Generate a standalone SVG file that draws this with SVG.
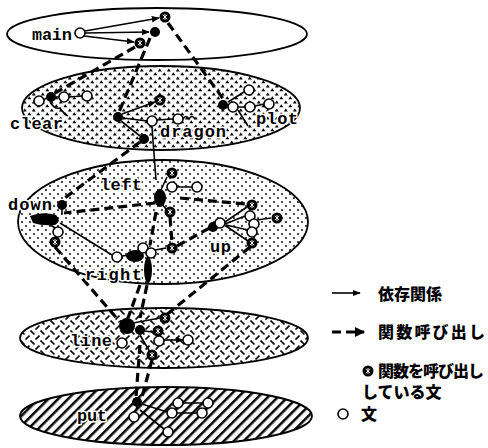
<svg xmlns="http://www.w3.org/2000/svg" width="488" height="448" viewBox="0 0 488 448">
<style>
.ell{stroke:#000;stroke-width:1.8}
.sl{fill:none;stroke:#000;stroke-width:1.6}
.dl{fill:none;stroke:#000;stroke-width:3.2;stroke-dasharray:9 5}
.lbl{font-family:"Liberation Mono","DejaVu Sans Mono",monospace;font-size:17px;font-weight:bold;fill:#000;stroke:#fff;stroke-width:3;paint-order:stroke;stroke-linejoin:round}
.jp{font-family:"Noto Sans CJK JP","Noto Sans CJK SC",sans-serif;font-size:16px;font-weight:900;fill:#000}
.blob{fill:#000}
</style>
<defs>
<pattern id="pTri" width="9" height="8" patternUnits="userSpaceOnUse"><path d="M0.3,3.2 L2.3,0.3 L4.3,3.2Z M4.8,7.4 L6.8,4.5 L8.8,7.4Z" fill="#000"/></pattern>
<pattern id="pDot" width="8" height="8" patternUnits="userSpaceOnUse"><circle cx="2" cy="2" r="0.95" fill="#000"/><circle cx="6" cy="6" r="0.95" fill="#000"/></pattern>
<pattern id="pDash" width="10" height="10" patternUnits="userSpaceOnUse"><path d="M0.5,0.5 L4.5,4.5 M5.5,9.5 L9.5,5.5" stroke="#000" stroke-width="1.6"/></pattern>
<pattern id="pHatch" width="7" height="7" patternUnits="userSpaceOnUse" patternTransform="rotate(45)"><rect x="0" y="0" width="2.5" height="7" fill="#000"/></pattern>
<marker id="ah" viewBox="0 0 10 10" refX="9" refY="5" markerWidth="5" markerHeight="5" orient="auto"><path d="M0,1 L10,5 L0,9Z" fill="#000"/></marker>
<marker id="ahd" viewBox="0 0 10 10" refX="9" refY="5" markerWidth="3.2" markerHeight="3.2" orient="auto"><path d="M0,0 L10,5 L0,10Z" fill="#000"/></marker>
<g id="on"><circle r="5" fill="#fff" stroke="#000" stroke-width="1.6"/></g>
<g id="cn"><circle r="5.5" fill="#000"/><path d="M-2.2,-2.2L2.2,2.2M2.2,-2.2L-2.2,2.2M0,-3V3" stroke="#fff" stroke-width="0.9"/></g>
<g id="bn"><circle r="5" fill="#000"/></g>
</defs>

<g id="layers">
<ellipse class="ell" cx="157" cy="34" rx="150" ry="26" fill="#fff"/>
<ellipse class="ell" cx="161" cy="108" rx="139" ry="42" fill="#fff"/>
<ellipse cx="161" cy="108" rx="139" ry="42" fill="url(#pTri)"/>
<ellipse class="ell" cx="163" cy="222" rx="145" ry="62" fill="#fff"/>
<ellipse cx="163" cy="222" rx="145" ry="62" fill="url(#pDot)"/>
<ellipse class="ell" cx="164" cy="338" rx="144" ry="30" fill="#fff"/>
<ellipse cx="164" cy="338" rx="144" ry="30" fill="url(#pDash)"/>
<ellipse class="ell" cx="166" cy="416" rx="146" ry="29" fill="#fff"/>
<ellipse cx="166" cy="416" rx="146" ry="29" fill="url(#pHatch)"/>
</g>

<g id="connectors">
<path class="sl" d="M85,31 L159,18" marker-end="url(#ah)"/>
<path class="sl" d="M85,33 L149,32" marker-end="url(#ah)"/>
<path class="sl" d="M84,36 L134,42" marker-end="url(#ah)"/>
<path class="dl" d="M135,47 L50,96"/>
<path class="dl" d="M150,38 L119,112"/>
<path class="dl" d="M168,23 L224,100"/>
<path class="sl" d="M44,100 L46,98 M56,97 L59,97 M69,97 L82,96"/>
<path class="sl" d="M50,102 q5,8 10,6 q4,6 8,8"/>
<path class="sl" d="M122,114 L155,102" marker-end="url(#ah)"/>
<path class="sl" d="M123,118 L147,121"/>
<path class="sl" d="M157,120 L173,119"/>
<path class="sl" d="M121,121 L140,136"/>
<path class="sl" d="M183,119 q3,-5 6,0 q3,-5 6,0"/>
<path class="sl" d="M228,102 L244,92 M229,106 L228,107 M238,107 L245,107 M255,106 L264,104 M238,110 L248,126"/>
<path class="dl" d="M140,142 L62,200"/>
<path class="sl" d="M152,127 L156,180" stroke-width="2"/>
<path class="sl" d="M177,187 L192,187 M160,192 L167,177 M160,202 L166,209"/>
<path class="sl" d="M62,206 L62,214 M45,221 L55,228 M57,236 L55,237"/>
<path class="sl" d="M60,223 L112,255" stroke-width="3"/>
<path class="sl" d="M122,256 L130,255 M155,250 L166,248"/>
<path class="sl" d="M225,222 L247,207 M225,224 L245,216 M226,225 L248,230 M226,226 L248,241 M257,220 L271,218"/>
<path class="dl" d="M155,203 L64,213"/>
<path class="dl" d="M180,198 L246,204"/>
<path class="dl" d="M156,212 L150,245"/>
<path class="dl" d="M170,217 L172,243"/>
<path class="dl" d="M177,246 L215,225"/>
<path class="dl" d="M55,247 L120,322"/>
<path class="dl" d="M140,285 L128,318"/>
<path class="dl" d="M147,285 L140,318"/>
<path class="dl" d="M250,247 L165,316"/>
<path class="sl" d="M133,323 L160,318 M135,330 L153,332 M140,335 L150,352"/>
<path class="sl" d="M164,340 L183,340" marker-end="url(#ah)"/>
<path class="dl" d="M140,345 L136,397"/>
<path class="dl" d="M152,360 L142,397"/>
<path class="sl" d="M142,404 L167,412 M137,407 L135,412 M183,403 L203,403 M177,413 L197,413 M140,410 L164,429 M178,408 L174,410 M206,408 L203,409"/>
</g>

<g id="n-main"><use href="#on" x="80" y="33"/><use href="#cn" x="165" y="17"/><use href="#bn" x="155" y="32"/><use href="#cn" x="140" y="43"/><text class="lbl" x="32" y="40" textLength="40">main</text></g>

<g id="n-clear"><use href="#on" x="39" y="101"/><use href="#bn" x="51" y="97"/><use href="#on" x="64" y="97"/><use href="#on" x="87" y="96"/><text class="lbl" x="10" y="129" textLength="53">clear</text></g>

<g id="n-dragon"><use href="#bn" x="118" y="117"/><use href="#cn" x="160" y="100"/><use href="#on" x="152" y="121"/><use href="#on" x="178" y="119"/><use href="#bn" x="144" y="139"/><text class="lbl" x="160" y="137" textLength="66">dragon</text></g>

<g id="n-plot"><use href="#bn" x="223" y="105"/><use href="#on" x="233" y="107"/><use href="#on" x="249" y="90"/><use href="#on" x="250" y="107"/><use href="#on" x="269" y="104"/><text class="lbl" x="256" y="124" textLength="42">plot</text></g>

<g id="n-left"><use href="#cn" x="172" y="173"/><use href="#on" x="172" y="187"/><use href="#on" x="197" y="187"/><ellipse class="blob" cx="160" cy="198" rx="6" ry="9"/><use href="#cn" x="170" y="212"/><text class="lbl" x="100" y="190" textLength="42">left</text></g>

<g id="n-down"><use href="#bn" x="62" y="205"/><path class="blob" d="M30,216 Q42,211 56,215 Q62,221 55,225 Q42,226 33,223Z"/><use href="#on" x="58" y="232"/><use href="#cn" x="55" y="242"/><text class="lbl" x="8" y="210" textLength="44">down</text></g>

<g id="n-right"><use href="#on" x="117" y="257"/><ellipse class="blob" cx="135" cy="256" rx="9" ry="6"/><ellipse class="blob" cx="148" cy="270" rx="4" ry="13"/><use href="#on" x="143" y="248"/><use href="#on" x="151" y="253"/><use href="#cn" x="172" y="248"/><text class="lbl" x="85" y="280" textLength="57">right</text></g>

<g id="n-up"><use href="#cn" x="252" y="205"/><use href="#cn" x="277" y="218"/><use href="#on" x="250" y="216"/><use href="#on" x="254" y="224"/><use href="#on" x="252" y="232"/><use href="#cn" x="252" y="243"/><use href="#bn" x="213" y="227"/><use href="#on" x="220" y="223"/><text class="lbl" x="210" y="252" textLength="21">up</text></g>

<g id="n-line"><ellipse class="blob" cx="127" cy="326" rx="8" ry="8"/><use href="#bn" x="140" y="330"/><use href="#on" x="122" y="343"/><use href="#cn" x="165" y="318"/><use href="#cn" x="158" y="331"/><use href="#on" x="159" y="341"/><use href="#on" x="188" y="340"/><use href="#cn" x="152" y="355"/><text class="lbl" x="70" y="346" textLength="42">line</text></g>

<g id="n-put"><use href="#bn" x="137" y="402"/><use href="#on" x="134" y="417"/><use href="#on" x="178" y="403"/><use href="#on" x="208" y="403"/><use href="#on" x="172" y="413"/><use href="#on" x="202" y="413"/><use href="#on" x="168" y="432"/><text class="lbl" x="77" y="421" textLength="30">put</text></g>

<g id="legend">
<path class="sl" d="M332,293 L360,293" marker-end="url(#ah)"/>
<text class="jp" x="378" y="300">依存関係</text>
<path class="dl" d="M332,332 L364,332" marker-end="url(#ahd)"/>
<text class="jp" x="378" y="338" textLength="107">関数呼び出し</text>
<use href="#cn" x="368" y="371"/>
<text class="jp" x="378" y="377" textLength="106">関数を呼び出し</text>
<text class="jp" x="362" y="398">している文</text>
<use href="#on" x="343" y="414"/>
<text class="jp" x="361" y="420">文</text>
</g>
</svg>
